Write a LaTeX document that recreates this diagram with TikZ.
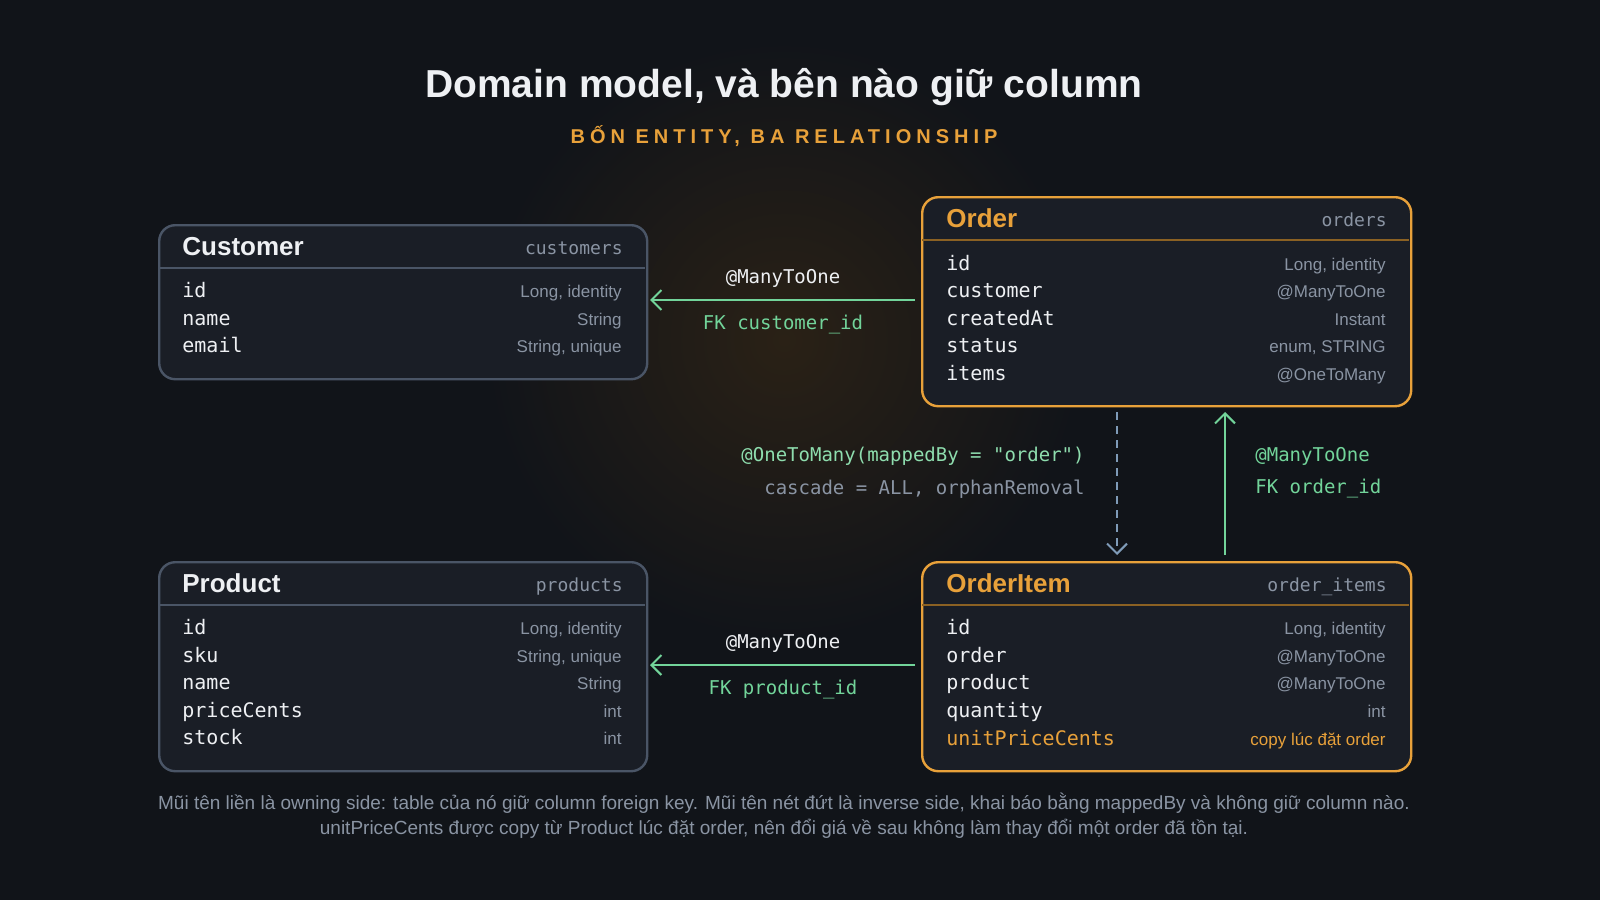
\documentclass[tikz,border=0pt]{standalone}
\usepackage{fontspec}
\setmainfont{Liberation Sans}
\setmonofont{DejaVu Sans Mono}
\usetikzlibrary{arrows.meta,positioning}
\definecolor{bgc}{HTML}{111419}
\definecolor{boxc}{HTML}{1A1E26}
\definecolor{edgec}{HTML}{4A5566}
\definecolor{orangec}{HTML}{E8A13A}
\definecolor{greenc}{HTML}{72D49A}
\definecolor{grayc}{HTML}{8A94A3}
\definecolor{dashc}{HTML}{7F9BB8}
\definecolor{textc}{HTML}{EEF0F3}
\definecolor{glowc}{HTML}{2A2116}
\tikzset{
  box/.style={draw=#1, line width=1.2pt, rounded corners=8pt, fill=boxc, anchor=north west, inner sep=0pt},
  boxtitle/.style={anchor=base west, font=\bfseries\fontsize{13}{15}\selectfont, inner sep=0pt},
  tblname/.style={anchor=base east, font=\ttfamily\fontsize{9}{11}\selectfont, text=grayc, inner sep=0pt},
  field/.style={anchor=base west, font=\ttfamily\fontsize{10}{12}\selectfont, text=textc, inner sep=0pt},
  ftype/.style={anchor=base east, font=\fontsize{8.5}{10}\selectfont, text=grayc, inner sep=0pt},
  rel/.style={font=\ttfamily\fontsize{9.5}{11}\selectfont, inner sep=0pt},
  own/.style={draw=greenc, line width=1pt, -{Straight Barb[length=5pt,width=10pt]}},
  inv/.style={draw=dashc, line width=1pt, dash pattern=on 4pt off 3pt, -{Straight Barb[length=5pt,width=10pt]}}
}
\begin{document}
\begin{tikzpicture}[x=0.5pt,y=-0.5pt]
\useasboundingbox (0,0) rectangle (1600,900);
\fill[bgc] (0,0) rectangle (1600,900);
\shade[inner color=glowc, outer color=bgc] (784,340) circle (300);
% Title
\node[text=textc, font=\bfseries\fontsize{19.5}{24}\selectfont] (title) at (784,87) {Domain model, và bên nào giữ column};
\node[text=orangec, font=\bfseries\fontsize{10}{12}\selectfont\addfontfeatures{LetterSpace=25}] (subtitle) at (784,136) {BỐN ENTITY, BA RELATIONSHIP};
% Boxes
\node[box=edgec, minimum width=244pt, minimum height=77pt] (cust) at (158,224) {};
\node[box=orangec, minimum width=244.5pt, minimum height=104.5pt] (ord) at (921,196) {};
\node[box=edgec, minimum width=244pt, minimum height=104.5pt] (prod) at (158,561) {};
\node[box=orangec, minimum width=244.5pt, minimum height=104.5pt] (item) at (921,561) {};
\draw[edgec, line width=1pt] (159,268) -- (645,268);
\draw[orangec!60!black, line width=1pt] (922,240) -- (1409,240);
\draw[edgec, line width=1pt] (159,605) -- (645,605);
\draw[orangec!60!black, line width=1pt] (922,605) -- (1409,605);
% Customer
\node[boxtitle, text=textc] (custT) at (182,255) {Customer};
\node[tblname] (custN) at (623,254) {customers};
\foreach \f/\t [count=\i] in {id/{Long, identity}, name/String, email/{String, unique}} {
  \node[field] (cf\i) at (182,270+27.5*\i) {\f};
  \node[ftype] (ct\i) at (622,270+27.5*\i) {\t};
}
% Order
\node[boxtitle, text=orangec] (ordT) at (946,227) {Order};
\node[tblname] (ordN) at (1387,226) {orders};
\foreach \f/\t [count=\i] in {id/{Long, identity}, customer/@ManyToOne, createdAt/Instant, status/{enum, STRING}, items/@OneToMany} {
  \node[field] (of\i) at (946,242.5+27.5*\i) {\f};
  \node[ftype] (ot\i) at (1386,242.5+27.5*\i) {\t};
}
% Product
\node[boxtitle, text=textc] (prodT) at (182,592) {Product};
\node[tblname] (prodN) at (623,591) {products};
\foreach \f/\t [count=\i] in {id/{Long, identity}, sku/{String, unique}, name/String, priceCents/int, stock/int} {
  \node[field] (pf\i) at (182,607+27.5*\i) {\f};
  \node[ftype] (pt\i) at (622,607+27.5*\i) {\t};
}
% OrderItem
\node[boxtitle, text=orangec] (itemT) at (946,592) {OrderItem};
\node[tblname] (itemN) at (1387,591) {order\_items};
\foreach \f/\t [count=\i] in {id/{Long, identity}, order/@ManyToOne, product/@ManyToOne, quantity/int} {
  \node[field] (if\i) at (946,607+27.5*\i) {\f};
  \node[ftype] (it\i) at (1386,607+27.5*\i) {\t};
}
\node[field, text=orangec] (if5) at (946,745) {unitPriceCents};
\node[ftype, text=orangec] (it5) at (1386,745) {copy lúc đặt order};
% Relationships
\coordinate (a1) at (915,300); \coordinate (b1) at (650,300);
\draw[own] (a1) -- (b1);
\node[rel, text=textc] (r1) at (783,278) {@ManyToOne};
\node[rel, text=greenc] (k1) at (783,325) {FK customer\_id};
\coordinate (a2) at (915,665); \coordinate (b2) at (650,665);
\draw[own] (a2) -- (b2);
\node[rel, text=textc] (r2) at (783,643) {@ManyToOne};
\node[rel, text=greenc] (k2) at (783,690) {FK product\_id};
\coordinate (a3) at (1117,412); \coordinate (b3) at (1117,555);
\draw[inv] (a3) -- (b3);
\node[rel, text=greenc!80!white, anchor=east] (r3) at (1085,456) {@OneToMany(mappedBy = "order")};
\node[rel, text=grayc, anchor=east] (k3) at (1085,489) {cascade = ALL, orphanRemoval};
\coordinate (a4) at (1225,555); \coordinate (b4) at (1225,412);
\draw[own] (a4) -- (b4);
\node[rel, text=greenc, anchor=west] (r4) at (1255,456) {@ManyToOne};
\node[rel, text=greenc, anchor=west] (k4) at (1255,489) {FK order\_id};
% Footer
\node[text=grayc, font=\fontsize{9.5}{11}\selectfont] (foot1) at (784,803) {Mũi tên liền là owning side: table của nó giữ column foreign key. Mũi tên nét đứt là inverse side, khai báo bằng mappedBy và không giữ column nào.};
\node[text=grayc, font=\fontsize{9.5}{11}\selectfont] (foot2) at (784,829) {unitPriceCents được copy từ Product lúc đặt order, nên đổi giá về sau không làm thay đổi một order đã tồn tại.};
\end{tikzpicture}
\end{document}
